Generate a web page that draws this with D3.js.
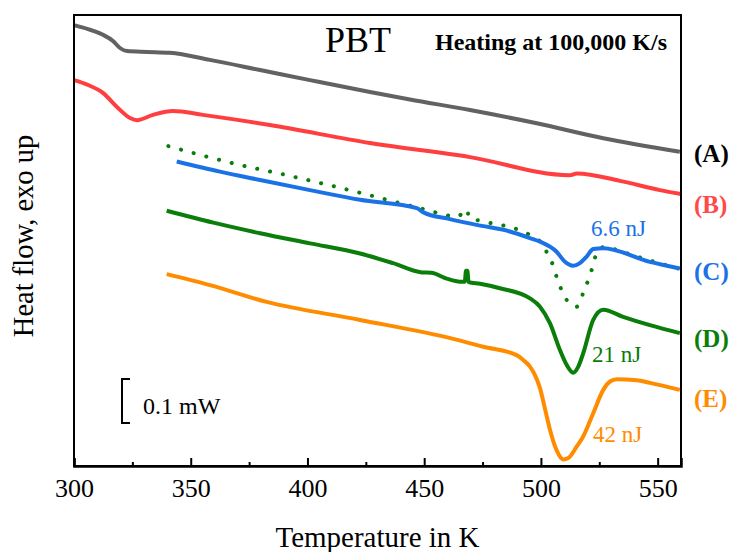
<!DOCTYPE html>
<html>
<head>
<meta charset="utf-8">
<script src="https://cdn.jsdelivr.net/npm/d3@7"></script>
<style>
  body { margin: 0; background: #fff; }
  svg { font-family: "Palatino Linotype", "Book Antiqua", Palatino, "Liberation Serif", serif; }
</style>
</head>
<body>
<svg width="734" height="552"></svg>
<script>
"use strict";

/* curves: [temperature K, heat flow mW (offset)] */
var curveA = [[300.0,1.002],[306.0,0.993],[312.4,0.980],[316.7,0.966],[319.7,0.950],[322.7,0.943],[331.3,0.941],
  [341.1,0.939],[358.2,0.923],[379.7,0.900],[401.1,0.877],[426.8,0.850],[443.9,0.833],[469.6,0.809],
  [498.2,0.779],[526.7,0.745],[559.5,0.714]];
var curveB = [[300.0,0.877],[306.0,0.866],[312.4,0.848],[318.4,0.816],[324.0,0.791],[327.0,0.786],[333.8,0.798],
  [342.4,0.807],[355.2,0.798],[383.9,0.775],[426.8,0.734],[469.6,0.702],[512.4,0.661],[515.4,0.665],
  [533.8,0.648],[551.0,0.627],[560.0,0.618]];
var curveC = [[344.0,0.692],[362.5,0.669],[379.7,0.650],[401.1,0.627],[422.5,0.605],[446.8,0.586],[449.5,0.577],
  [461.0,0.561],[472.5,0.548],[486.7,0.533],[495.3,0.518],[499.6,0.510],[506.7,0.487],[510.3,0.464],
  [513.8,0.455],[516.7,0.461],[519.6,0.476],[522.4,0.493],[526.6,0.495],[546.7,0.464],[559.5,0.449]];
var curveCdot = [[340.4,0.727],[369.7,0.686],[389.5,0.663],[422.5,0.621],[448.2,0.586],[464.5,0.567],[467.9,0.584],
  [469.6,0.563],[472.5,0.559],[495.3,0.525],[499.6,0.510],[502.4,0.487],[504.6,0.464],[506.7,0.430],
  [510.7,0.380],[515.3,0.362],[518.1,0.393],[520.3,0.423],[521.7,0.445],[523.1,0.472],[525.3,0.495],
  [528.1,0.498],[532.4,0.491],[542.4,0.474],[556.7,0.452],[559.5,0.448]];
var curveD = [[339.7,0.580],[359.7,0.553],[379.7,0.529],[401.1,0.506],[422.5,0.483],[436.7,0.461],[449.0,0.440],
  [453.0,0.439],[459.6,0.426],[465.3,0.419],[467.4,0.419],[467.9,0.444],[468.5,0.444],[469.0,0.418],
  [473.9,0.414],[482.4,0.404],[495.3,0.381],[499.6,0.362],[503.9,0.324],[508.1,0.264],[511.0,0.230],
  [513.8,0.212],[516.0,0.226],[518.1,0.256],[522.4,0.332],[526.7,0.355],[535.2,0.339],[546.7,0.320],[559.5,0.302]];
var curveE = [[339.7,0.436],[358.2,0.411],[382.5,0.373],[422.5,0.332],[462.4,0.289],[475.3,0.271],[489.6,0.252],
  [492.4,0.241],[495.3,0.226],[497.4,0.207],[499.6,0.177],[501.7,0.131],[503.9,0.082],[506.7,0.036],
  [509.6,0.015],[511.7,0.018],[515.3,0.044],[518.1,0.067],[522.4,0.120],[526.7,0.173],[529.6,0.192],
  [532.4,0.197],[541.0,0.195],[546.7,0.189],[559.5,0.173]];

var curveNames = ["A", "B", "C", "D", "E"];
var curveColors = ["#626262", "#ff3f3f", "#1a72e6", "#0a7d0a", "#ff8c00"];
var labelColors = ["#000000", "#ff4a4a", "#1a72e6", "#0a7d0a", "#ff8c00"];
var energyLabels = ["6.6 nJ", "21 nJ", "42 nJ"];
var xTicks = [300, 350, 400, 450, 500, 550];
var xMinorTicks = [325, 375, 425, 475, 525];
var scaleBarSize = 0.1; // mW
var scaleBarBase = 0.098;

var svg = d3.select("svg"),
    margin = {top: 15, right: 53, bottom: 86, left: 74},
    width = +svg.attr("width") - margin.left - margin.right,
    height = +svg.attr("height") - margin.top - margin.bottom,
    g = svg.append("g").attr("transform", "translate(" + margin.left + "," + margin.top + ")");

var x = d3.scaleLinear().domain([300, 560]).range([0, width]);
var y = d3.scaleLinear().domain([0, 1.025]).range([height, 0]);

var line = d3.line()
    .x(function(d) { return x(d[0]); })
    .y(function(d) { return y(d[1]); })
    .curve(d3.curveMonotoneX);

var curves = [curveA, curveB, curveC, curveD, curveE];

// dotted reference curve first, under the solid ones
g.append("path")
    .datum(curveCdot)
    .attr("fill", "none")
    .attr("stroke", curveColors[3])
    .attr("stroke-width", 4)
    .attr("stroke-linecap", "round")
    .attr("stroke-dasharray", "0.1,13")
    .attr("d", line);

g.selectAll(".curve")
    .data(curves)
  .enter().append("path")
    .attr("class", "curve")
    .attr("fill", "none")
    .attr("stroke", function(d, i) { return curveColors[i]; })
    .attr("stroke-width", 4)
    .attr("stroke-linejoin", "round")
    .attr("d", line);

// frame
g.append("rect")
    .attr("width", width)
    .attr("height", height)
    .attr("fill", "none")
    .attr("stroke", "#000")
    .attr("stroke-width", 2);

// x axis, ticks inside
var xAxis = g.append("g")
    .attr("transform", "translate(0," + height + ")")
    .call(d3.axisBottom(x).tickValues(xTicks).tickSize(-8).tickPadding(13).tickFormat(d3.format("d")));
xAxis.select(".domain").attr("stroke-width", 2.5);
xAxis.selectAll(".tick line").attr("stroke-width", 2);
xAxis.selectAll("text")
    .attr("font-family", "\"Palatino Linotype\", \"Liberation Serif\", serif")
    .attr("font-size", 26)
    .attr("fill", "#000");

var xMinor = g.append("g")
    .attr("transform", "translate(0," + height + ")")
    .call(d3.axisBottom(x).tickValues(xMinorTicks).tickSize(-4).tickFormat(""));
xMinor.select(".domain").remove();
xMinor.selectAll(".tick line").attr("stroke-width", 2);

// axis titles
svg.append("text")
    .attr("x", margin.left + width / 2)
    .attr("y", 547)
    .attr("text-anchor", "middle")
    .attr("font-size", 29)
    .text("Temperature in K");

svg.append("text")
    .attr("transform", "translate(33," + (margin.top + 221) + ") rotate(-90)")
    .attr("text-anchor", "middle")
    .attr("font-size", 28.5)
    .text("Heat flow, exo up");

// titles inside plot
svg.append("text")
    .attr("x", 325)
    .attr("y", 52)
    .attr("font-size", 36)
    .text("PBT");

svg.append("text")
    .attr("x", 667)
    .attr("y", 50)
    .attr("text-anchor", "end")
    .attr("font-size", 24)
    .attr("font-weight", "bold")
    .text("Heating at 100,000 K/s");

// curve labels at right
var labelY = [162, 213, 280, 347, 407];
svg.selectAll(".clabel")
    .data(curveNames)
  .enter().append("text")
    .attr("class", "clabel")
    .attr("x", 694)
    .attr("y", function(d, i) { return labelY[i]; })
    .attr("font-size", 25)
    .attr("font-weight", "bold")
    .attr("fill", function(d, i) { return labelColors[i]; })
    .text(function(d) { return "(" + d + ")"; });

// energy annotations
var energyPos = [[591, 236], [592, 362], [593, 442]];
var energyColors = [curveColors[2], curveColors[3], curveColors[4]];
svg.selectAll(".elabel")
    .data(energyLabels)
  .enter().append("text")
    .attr("class", "elabel")
    .attr("x", function(d, i) { return energyPos[i][0]; })
    .attr("y", function(d, i) { return energyPos[i][1]; })
    .attr("font-size", 23)
    .attr("fill", function(d, i) { return energyColors[i]; })
    .text(function(d) { return d; });

// scale bar
var sbTop = y(scaleBarBase + scaleBarSize), sbBot = y(scaleBarBase);
g.append("path")
    .attr("d", "M56," + sbTop + "H48V" + sbBot + "H56")
    .attr("fill", "none")
    .attr("stroke", "#000")
    .attr("stroke-width", 2);
g.append("text")
    .attr("x", 69)
    .attr("y", sbBot - 9)
    .attr("font-size", 24)
    .text("0.1 mW");
</script>
</body>
</html>
